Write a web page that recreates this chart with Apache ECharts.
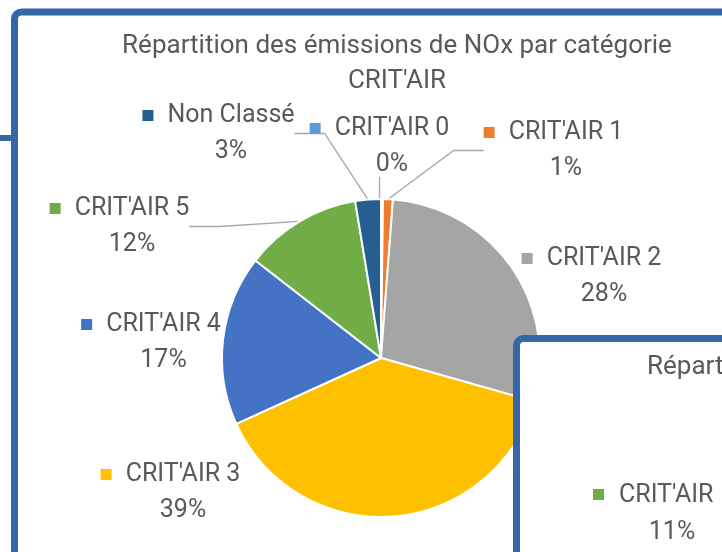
<!DOCTYPE html>
<html>
<head>
<meta charset="utf-8">
<script src="https://cdn.jsdelivr.net/npm/echarts@6/dist/echarts.min.js"></script>
<style>
html,body{margin:0;padding:0;background:#fff;}
#chart{width:722px;height:552px;}
</style>
</head>
<body>
<div id="chart"></div>
<script>
// ---- data ----
const categories = ["CRIT'AIR 0", "CRIT'AIR 1", "CRIT'AIR 2", "CRIT'AIR 3", "CRIT'AIR 4", "CRIT'AIR 5", "Non Classé"];
const values = [0.2, 1.0, 28.2, 38.8, 17.3, 11.9, 2.6];
const chartTitle = "Répartition des émissions de NOx par catégorie\nCRIT'AIR";

// second (partially hidden) chart texts
const hiddenTitle = "Répartition des émissions de NOx par catégorie";
const hiddenLabelName = "CRIT'AIR";
const hiddenLabelValue = 11;

// ---- styles / layout ----
const colors = ['#5B9BD5', '#ED7D31', '#A5A5A5', '#FFC000', '#4472C4', '#70AD47', '#255E91'];
const labelPos = [[379.5, 146.5], [553.5, 150.5], [591.5, 276.5], [170.5, 492.5], [151, 342.5], [119.5, 226.5], [218.5, 133.5]];
const showLine = [true, true, false, false, false, true, true];
const textColor = '#595959';
const frameColor = '#3566A6';
const FONT = 'Roboto';

const rich = {
  g: {width: 14},
  sp: {width: 25},
  n: {fontSize: 25, color: textColor, fontFamily: FONT, lineHeight: 36},
  p: {fontSize: 25, color: textColor, fontFamily: FONT, lineHeight: 36}
};
colors.forEach((c, i) => {
  rich['s' + i] = {width: 11, height: 11, backgroundColor: c};
});

const data = categories.map((name, i) => ({
  name: name,
  value: values[i],
  labelLine: {show: showLine[i]}
}));

const chart = echarts.init(document.getElementById('chart'), null, {renderer: 'canvas'});
chart.setOption({
  animation: false,
  backgroundColor: '#fff',
  title: {
    text: chartTitle,
    left: 397,
    top: 29,
    padding: 0,
    textAlign: 'center',
    textStyle: {fontFamily: FONT, fontSize: 26, fontWeight: 'normal', color: textColor, lineHeight: 35}
  },
  color: colors,
  series: [{
    type: 'pie',
    center: [381, 358],
    radius: 159,
    startAngle: 90,
    clockwise: true,
    avoidLabelOverlap: false,
    emphasis: {disabled: true},
    itemStyle: {borderColor: '#fff', borderWidth: 2},
    label: {
      show: true,
      position: 'outside',
      align: 'center',
      formatter: p => `{s${p.dataIndex}| }{g| }{n|${p.name}}\n{sp| }{p|${Math.round(p.value)}%}`,
      rich: rich
    },
    labelLine: {
      show: true,
      lineStyle: {color: '#A6A6A6', width: 1.3}
    },
    labelLayout: function (params) {
      const pos = labelPos[params.dataIndex];
      return {x: pos[0], y: pos[1], align: 'center', verticalAlign: 'middle'};
    },
    data: data
  }],
  graphic: [
    // outer frame of the main chart
    {type: 'rect', z: 100, shape: {x: 14.5, y: 12, width: 900, height: 700, r: 7},
      style: {fill: null, stroke: frameColor, lineWidth: 7}},
    // edge of a neighbouring frame on the left
    {type: 'rect', z: 100, shape: {x: 0, y: 135, width: 14, height: 6},
      style: {fill: frameColor}},
    // overlapping second chart frame
    {type: 'rect', z: 100, shape: {x: 516.5, y: 338.5, width: 500, height: 400, r: 7},
      style: {fill: '#fff', stroke: frameColor, lineWidth: 7}},
    {type: 'text', z: 101, x: 647, y: 367,
      style: {text: hiddenTitle, fill: textColor, font: '26px ' + FONT, textAlign: 'left', textVerticalAlign: 'middle'}},
    {type: 'rect', z: 101, shape: {x: 593, y: 489, width: 11, height: 11},
      style: {fill: '#70AD47'}},
    {type: 'text', z: 101, x: 619, y: 496,
      style: {text: hiddenLabelName, fill: textColor, font: '25px ' + FONT, textAlign: 'left', textVerticalAlign: 'middle'}},
    {type: 'text', z: 101, x: 672, y: 533,
      style: {text: hiddenLabelValue + '%', fill: textColor, font: '25px ' + FONT, textAlign: 'center', textVerticalAlign: 'middle'}}
  ]
});
</script>
</body>
</html>
